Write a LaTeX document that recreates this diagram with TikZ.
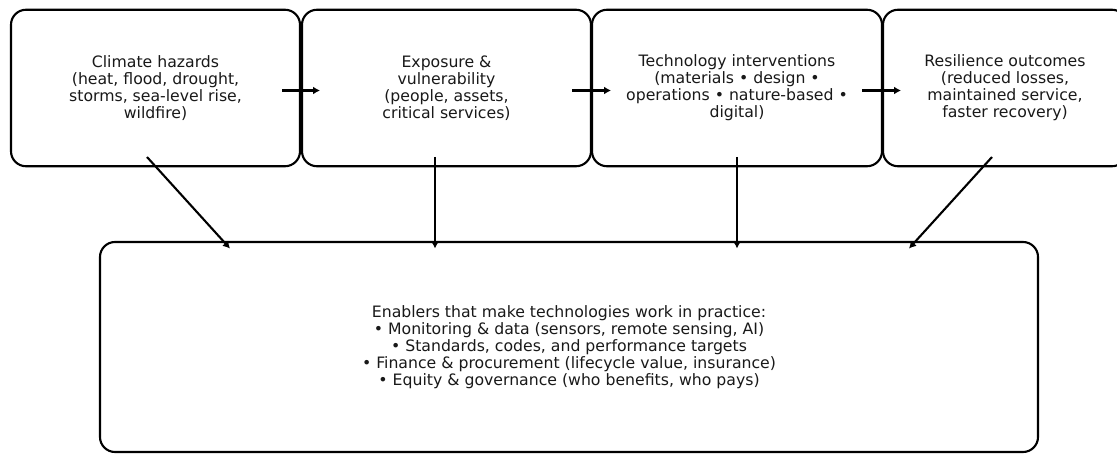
\documentclass[tikz,border=0pt]{standalone}
\usepackage{fontspec}
\setmainfont{DejaVu Sans}
\usetikzlibrary{arrows.meta}
\begin{document}
\begin{tikzpicture}[x=1pt,y=-1pt,
  box/.style={draw=black, line width=2.1pt, rounded corners=15pt, align=center,
    inner sep=0pt, outer sep=0pt, font=\fontsize{15.7}{17}\selectfont, text=black!90},
  conn/.style={line width=2.1pt, -{Latex[length=7pt,width=8pt]}}]
\useasboundingbox (0,0) rectangle (1117,454);
\clip (0,0) rectangle (1117,454);
\fill[white] (0,0) rectangle (1117,454);
\node[box, minimum width=289pt, minimum height=156.5pt] (b1) at (155.5,88) {Climate hazards\\(heat, flood, drought,\\storms, sea-level rise,\\wildfire)};
\node[box, minimum width=289pt, minimum height=156.5pt] (b2) at (446.5,88) {Exposure \&\\vulnerability\\(people, assets,\\critical services)};
\node[box, minimum width=290pt, minimum height=156.5pt] (b3) at (737,88) {Technology interventions\\(materials • design •\\operations • nature-based •\\digital)};
\node[box, minimum width=244pt, minimum height=156.5pt] (b4) at (1005,88) {Resilience outcomes\\(reduced losses,\\maintained service,\\faster recovery)};
\node[box, minimum width=938pt, minimum height=210pt] (en) at (569,347) {Enablers that make technologies work in practice:\\• Monitoring \& data (sensors, remote sensing, AI)\\• Standards, codes, and performance targets\\• Finance \& procurement (lifecycle value, insurance)\\• Equity \& governance (who benefits, who pays)};
% connector end points
\coordinate (h1s) at (282,90.5); \coordinate (h1e) at (320,90.5);
\coordinate (h2s) at (572,90.5); \coordinate (h2e) at (611,90.5);
\coordinate (h3s) at (862,90.5); \coordinate (h3e) at (901,90.5);
\coordinate (d1s) at (147,157); \coordinate (d1e) at (230,248.5);
\coordinate (d2s) at (435,157); \coordinate (d2e) at (435,248.5);
\coordinate (d3s) at (737,157); \coordinate (d3e) at (737,248.5);
\coordinate (d4s) at (992,157); \coordinate (d4e) at (909,248.5);
\draw[conn] (h1s) -- (h1e);
\draw[conn] (h2s) -- (h2e);
\draw[conn] (h3s) -- (h3e);
\draw[conn] (d1s) -- (d1e);
\draw[conn] (d2s) -- (d2e);
\draw[conn] (d3s) -- (d3e);
\draw[conn] (d4s) -- (d4e);
\end{tikzpicture}
\end{document}
